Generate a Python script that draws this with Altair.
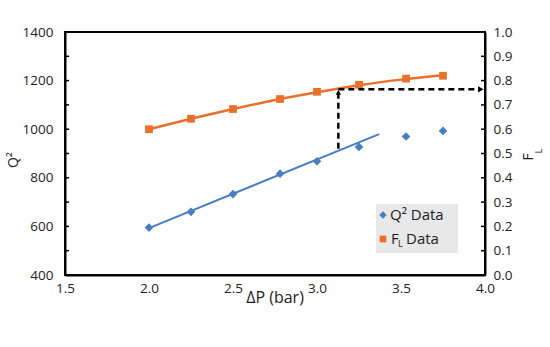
import altair as alt
import pandas as pd

# ---- data ----
dp = [2.0, 2.25, 2.5, 2.78, 3.0, 3.25, 3.53, 3.75]
q2 = [595, 660, 733, 817, 868, 927, 970, 993]
fl = [0.600, 0.643, 0.683, 0.724, 0.754, 0.783, 0.808, 0.820]

q2_fit_x = [2.0, 3.37]
q2_fit_y = [593, 980]

fl_fit_x = [2.0, 2.25, 2.5, 2.75, 3.0, 3.25, 3.5, 3.75]
fl_fit_y = [0.600, 0.643, 0.683, 0.720, 0.752, 0.781, 0.804, 0.822]

# dashed read-off arrows
v_x, v_y1, v_y2 = [3.127], [0.52], [0.752]
h_x1, h_x2, h_y = [3.127], [3.975], [0.764]

x_ticks = [1.5, 2.0, 2.5, 3.0, 3.5, 4.0]
left_ticks = [400, 600, 800, 1000, 1200, 1400]
left_minor = [500, 600, 700, 800, 900, 1000, 1100, 1200, 1300]
right_ticks = [0.0, 0.1, 0.2, 0.3, 0.4, 0.5, 0.6, 0.7, 0.8, 0.9, 1.0]
right_minor = [0.1, 0.2, 0.3, 0.4, 0.5, 0.6, 0.7, 0.8, 0.9]

BLUE = "#4A7EC2"
ORANGE = "#E8702A"
FONT = "Open Sans"
LBL = 13.5

W, H = 420, 243

X = alt.X("x:Q", scale=alt.Scale(domain=[1.5, 4.0], nice=False, zero=False),
          axis=alt.Axis(values=x_ticks, format=".1f", title=None, ticks=False,
                        labelPadding=6, labelFontSize=LBL, labelFont=FONT,
                        labelColor="#222", domainColor="black", domainWidth=2,
                        grid=False, labelFlush=False))

YL_scale = alt.Scale(domain=[400, 1400], nice=False, zero=False)
YL_axis = alt.Axis(values=left_ticks, format="d", title=None, ticks=False, labelPadding=12,
                   labelFontSize=LBL, labelFont=FONT, labelColor="#222",
                   domainColor="black", domainWidth=2, grid=False, orient="left")
YR_scale = alt.Scale(domain=[0, 1], nice=False, zero=False)
YR_axis = alt.Axis(values=right_ticks, format=".1f", title=None, ticks=False,
                   labelPadding=8, labelFontSize=LBL, labelFont=FONT,
                   labelColor="#222", domainColor="black", domainWidth=2,
                   grid=False, orient="right", labelFlush=False)

q2_df = pd.DataFrame({"x": dp, "y": q2})
q2_fit_df = pd.DataFrame({"x": q2_fit_x, "y": q2_fit_y})
fl_df = pd.DataFrame({"x": dp, "y": fl})
fl_fit_df = pd.DataFrame({"x": fl_fit_x, "y": fl_fit_y})
one = pd.DataFrame({"a": [0]})

YL = alt.Y("y:Q", scale=YL_scale, axis=YL_axis)
YR = alt.Y("y:Q", scale=YR_scale, axis=YR_axis)

q2_line = alt.Chart(q2_fit_df).mark_line(color=BLUE, strokeWidth=2).encode(x=X, y=YL)
q2_pts = alt.Chart(q2_df).mark_point(shape="diamond", filled=True, color=BLUE,
                                     size=75, opacity=1).encode(x=X, y=YL)
lt = alt.Chart(pd.DataFrame({"y": left_minor})).mark_rule(color="black", strokeWidth=1.5).encode(
    x=alt.value(0), x2=alt.value(4), y=YL)

left = alt.layer(q2_line, q2_pts, lt)

fl_line = alt.Chart(fl_fit_df).mark_line(color=ORANGE, strokeWidth=2.5,
                                         interpolate="monotone").encode(x=X, y=YR)
fl_pts = alt.Chart(fl_df).mark_point(shape="square", filled=True, color=ORANGE,
                                     size=60, opacity=1).encode(x=X, y=YR)
rt = alt.Chart(pd.DataFrame({"y": right_minor})).mark_rule(color="black", strokeWidth=1.5).encode(
    x=alt.value(W - 4), x2=alt.value(W), y=YR)

vdash = alt.Chart(pd.DataFrame({"x": v_x, "y": v_y1, "y2": v_y2})).mark_rule(
    color="black", strokeWidth=2.5, strokeDash=[6, 4]).encode(x=X, y=YR, y2="y2:Q")
hdash = alt.Chart(pd.DataFrame({"x": h_x1, "x2": h_x2, "y": h_y})).mark_rule(
    color="black", strokeWidth=2.5, strokeDash=[6, 4]).encode(x=X, x2="x2:Q", y=YR)
up_head = alt.Chart(pd.DataFrame({"x": v_x, "y": v_y2})).mark_point(
    shape="triangle-up", filled=True, color="black", size=30, opacity=1).encode(x=X, y=YR)
right_head = alt.Chart(pd.DataFrame({"x": h_x2, "y": h_y})).mark_point(
    shape="triangle-right", filled=True, color="black", size=40, opacity=1).encode(x=X, y=YR)

# legend (drawn by hand to allow sub/superscripts)
leg_bg = alt.Chart(one).mark_rect(color="#E8E8E8").encode(
    x=alt.value(311), x2=alt.value(393), y=alt.value(172), y2=alt.value(221))
leg_d = alt.Chart(one).mark_point(shape="diamond", filled=True, color=BLUE, size=55,
                                  opacity=1).encode(x=alt.value(318), y=alt.value(183))
leg_s = alt.Chart(one).mark_point(shape="square", filled=True, color=ORANGE, size=45,
                                  opacity=1).encode(x=alt.value(318), y=alt.value(207))
leg_t1 = alt.Chart(one).mark_text(text="Q² Data", align="left", baseline="middle",
                                  fontSize=15, font=FONT, color="#222").encode(
    x=alt.value(325), y=alt.value(183))
leg_t2a = alt.Chart(one).mark_text(text="F", align="left", baseline="middle",
                                   fontSize=15, font=FONT, color="#222").encode(
    x=alt.value(326), y=alt.value(207))
leg_t2b = alt.Chart(one).mark_text(text="L", align="left", baseline="middle",
                                   fontSize=9, font=FONT, color="#222").encode(
    x=alt.value(333), y=alt.value(212))
leg_t2c = alt.Chart(one).mark_text(text="Data", align="left", baseline="middle",
                                   fontSize=15, font=FONT, color="#222").encode(
    x=alt.value(341), y=alt.value(207))

# axis titles
t_q2 = alt.Chart(one).mark_text(text="Q²", angle=270, align="center", baseline="middle",
                                fontSize=14, font=FONT, color="#222").encode(
    x=alt.value(-51), y=alt.value(128))
t_f = alt.Chart(one).mark_text(text="F", angle=270, align="center", baseline="middle",
                               fontSize=14, font=FONT, color="#222").encode(
    x=alt.value(464), y=alt.value(125))
t_l = alt.Chart(one).mark_text(text="L", angle=270, align="center", baseline="middle",
                               fontSize=9, font=FONT, color="#222").encode(
    x=alt.value(474), y=alt.value(119))
t_x = alt.Chart(one).mark_text(text="ΔP (bar)", align="center", baseline="middle",
                               fontSize=16, font=FONT, color="#222").encode(
    x=alt.value(210), y=alt.value(266))

right = alt.layer(fl_line, fl_pts, rt, vdash, hdash, up_head, right_head,
                  leg_bg, leg_d, leg_s, leg_t1, leg_t2a, leg_t2b, leg_t2c,
                  t_q2, t_f, t_l, t_x)

chart = alt.layer(left, right).resolve_scale(y="independent").properties(
    width=W, height=H,
    autosize=alt.AutoSizeParams(type="none"),
    padding={"left": 65, "top": 32, "right": 65, "bottom": 72},
    background="white",
).configure_view(stroke="black", strokeWidth=2)

chart.save("out.html", embed_options={"renderer": "svg", "actions": False})
